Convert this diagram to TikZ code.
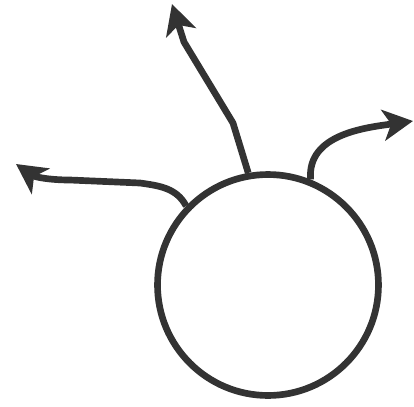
\documentclass[tikz,border=0pt]{standalone}
\usepackage{xcolor}
\usetikzlibrary{arrows.meta}
\definecolor{ink}{HTML}{333333}

\begin{document}
\begin{tikzpicture}[
  x=0.02cm, y=-0.02cm,
  ring/.style={draw=ink, circle, line width=3.8pt, minimum size=4.42cm, inner sep=0pt},
  arr/.style={-{Stealth[length=0.6cm, width=0.62cm, inset=0.16cm]}, draw=ink, line width=3.8pt, line join=round},
]
  \useasboundingbox (0,0) rectangle (414,407);

  % The body and the three tips the strokes reach
  \node[ring] (body) at (268,285) {};
  \coordinate (up)    at (172,4);
  \coordinate (right) at (413,121);
  \coordinate (left)  at (16,164);

  % Strokes leaving the body
  \draw[arr] (body.100) -- (233,123) -- (184,42) -- (up);
  \draw[arr] (body.68) to[out=95, in=188] (right);
  \draw[arr] (body.136) to[out=118, in=-8] (140,183) -- (70,180) to[out=180, in=-35] (left);
\end{tikzpicture}
\end{document}
